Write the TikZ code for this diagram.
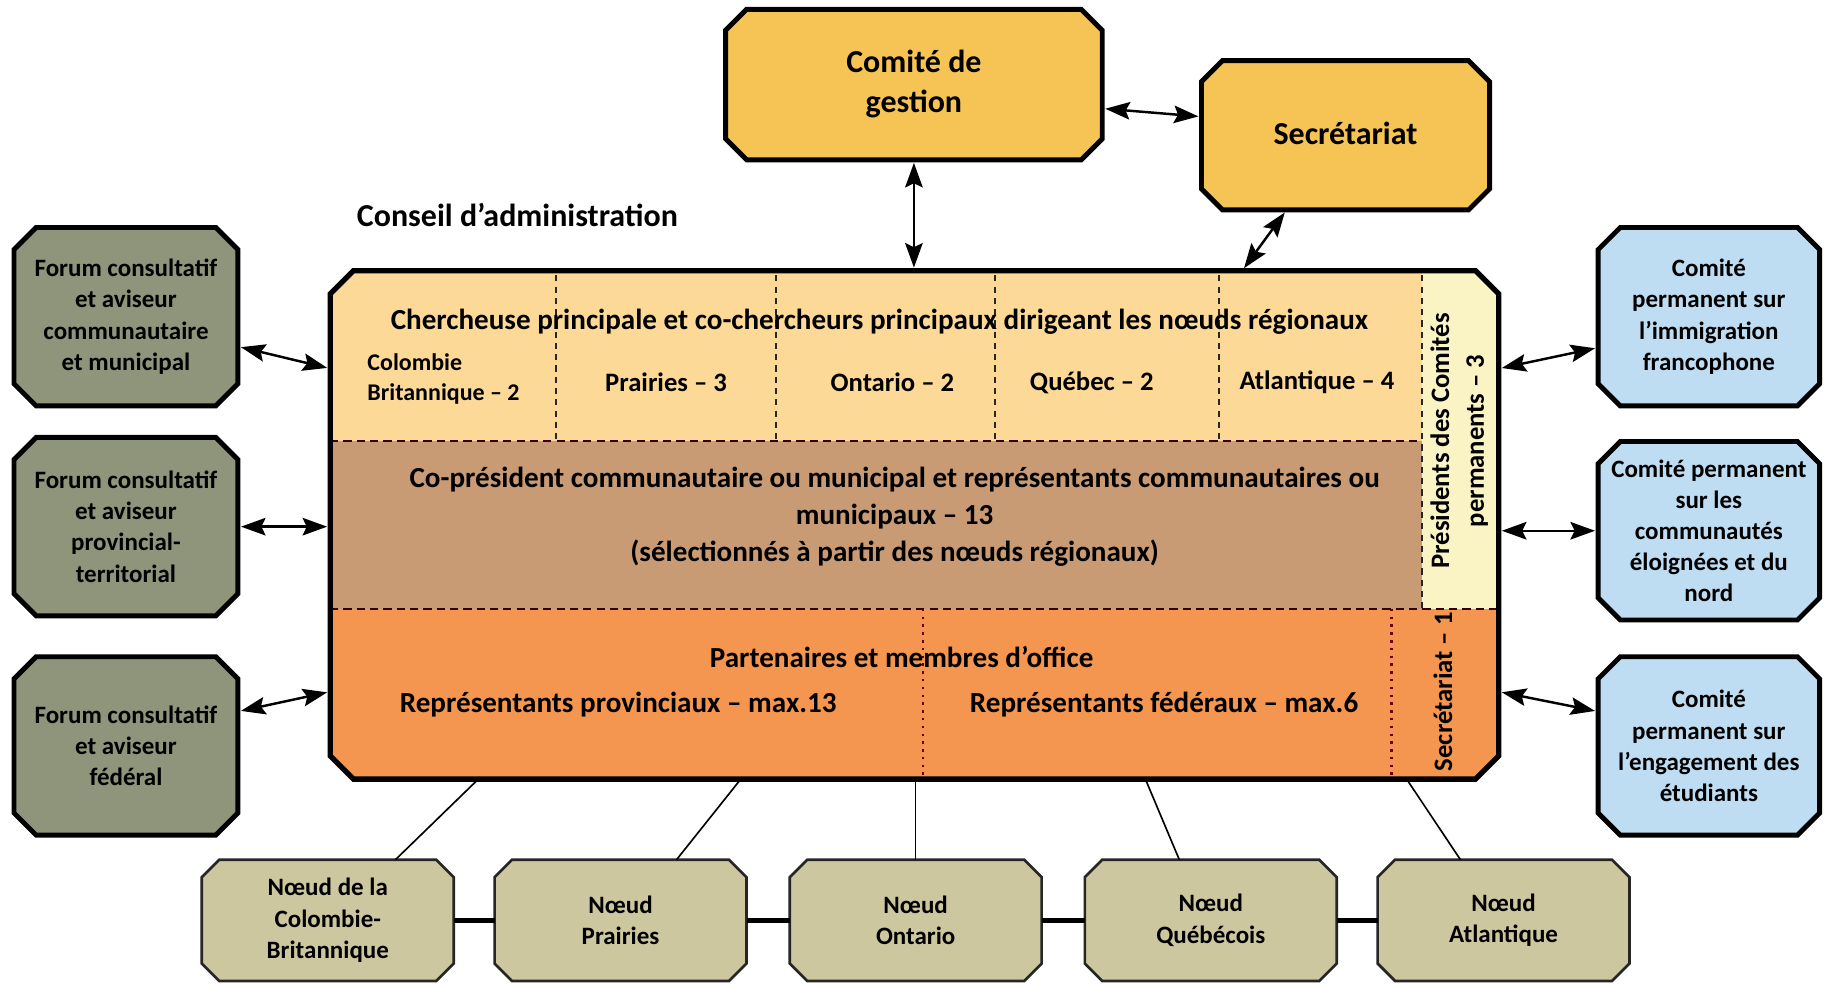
\documentclass[tikz,border=0pt]{standalone}
\usepackage{fontspec}
\setmainfont{Carlito}
\usetikzlibrary{arrows.meta,backgrounds}
\definecolor{cgold}{RGB}{245,196,85}
\definecolor{crowa}{RGB}{253,217,152}
\definecolor{crowb}{RGB}{201,155,116}
\definecolor{crowc}{RGB}{244,150,80}
\definecolor{cpres}{RGB}{250,244,196}
\definecolor{cforum}{RGB}{142,149,123}
\definecolor{cblue}{RGB}{190,220,242}
\definecolor{ckhaki}{RGB}{205,199,160}
\newcommand\fsz[2]{\fontsize{#1}{#2}\selectfont\bfseries}
% octagon outline behind a named rectangular node
\newcommand\octo[3]{%
  \begin{pgfonlayer}{background}
  \path[#3] ([xshift=#2]#1.north west) -- ([xshift=-#2]#1.north east) -- ([yshift=-#2]#1.north east) -- ([yshift=#2]#1.south east) -- ([xshift=-#2]#1.south east) -- ([xshift=#2]#1.south west) -- ([yshift=#2]#1.south west) -- ([yshift=-#2]#1.north west) -- cycle;
  \end{pgfonlayer}}
\begin{document}
\begin{tikzpicture}[x=0.02cm,y=-0.02cm,
  every node/.style={inner sep=0pt, outer sep=0pt},
  boxtext/.style={align=center},
  goldbox/.style={boxtext, font=\fsz{15.6}{19.4}},
  sidebox/.style={boxtext, minimum width=3.84cm, minimum height=3.06cm, font=\fsz{12.2}{15.2}},
  nodebox/.style={boxtext, minimum width=4.32cm, minimum height=2.08cm, font=\fsz{12.2}{15.4}},
  goldfill/.style={fill=cgold, draw=black, line width=2.4pt, line join=miter},
  forumfill/.style={fill=cforum, draw=black, line width=2.4pt},
  permfill/.style={fill=cblue, draw=black, line width=2.4pt},
  khakifill/.style={fill=ckhaki, draw=black!85, line width=1.3pt},
  arr/.style={{Stealth[length=0.42cm,width=0.3cm,inset=0.07cm]}-{Stealth[length=0.42cm,width=0.3cm,inset=0.07cm]}, line width=1.2pt, shorten <=1.5pt, shorten >=1.5pt},
  link/.style={line width=0.8pt},
  chain/.style={line width=2.4pt},
  dashA/.style={line width=1pt, dash pattern=on 3pt off 2.5pt, black!85},
  dashB/.style={line width=1.1pt, dash pattern=on 4pt off 2.5pt, black!80!red},
  dotA/.style={line width=1.1pt, dash pattern=on 1.2pt off 2.6pt, red!40!black},
  celltext/.style={font=\fsz{13}{16}},
  bigtext/.style={font=\fsz{14.2}{17.9}, align=center},
]
\useasboundingbox (0,0) rectangle (1568,843);

% top boxes
\node[goldbox, minimum width=6.46cm, minimum height=2.58cm] (cg) at (783.5,72.5) {\raisebox{2pt}{\begin{tabular}{@{}c@{}}Comité de\\gestion\end{tabular}}};
\octo{cg}{0.36cm}{goldfill}
\node[goldbox, minimum width=4.94cm, minimum height=2.56cm] (sec) at (1153.5,116) {\raisebox{2pt}{Secrétariat}};
\octo{sec}{0.36cm}{goldfill}
\node[anchor=west, font=\fsz{15.6}{19}] (ca) at (306,184) {Conseil d’administration};

% board (named frame)
\node[minimum width=20.04cm, minimum height=8.72cm] (board) at (784,450) {};
\begin{scope}
\clip ([xshift=0.4cm]board.north west) -- ([xshift=-0.4cm]board.north east) -- ([yshift=-0.4cm]board.north east) -- ([yshift=0.4cm]board.south east) -- ([xshift=-0.4cm]board.south east) -- ([xshift=0.4cm]board.south west) -- ([yshift=0.4cm]board.south west) -- ([yshift=-0.4cm]board.north west) -- cycle;
\fill[crowa] (283,232) rectangle (1219,378);
\fill[cpres] (1219,232) rectangle (1285,522);
\fill[crowb] (283,378) rectangle (1219,522);
\fill[crowc] (283,522) rectangle (1285,668);
\end{scope}
\foreach \xx in {477,665,853,1045} \draw[dashA] (\xx,236) -- (\xx,378);
\draw[dashA] (1219,236) -- (1219,522);
\draw[dashB] (283,378) -- (1219,378);
\draw[dashB] (283,522) -- (1285,522);
\draw[dotA] (791,522) -- (791,665);
\draw[dotA] (1193,522) -- (1193,665);
\draw[line width=2.6pt, line join=miter] ([xshift=0.4cm]board.north west) -- ([xshift=-0.4cm]board.north east) -- ([yshift=-0.4cm]board.north east) -- ([yshift=0.4cm]board.south east) -- ([xshift=-0.4cm]board.south east) -- ([xshift=0.4cm]board.south west) -- ([yshift=0.4cm]board.south west) -- ([yshift=-0.4cm]board.north west) -- cycle;

% board texts
\node[bigtext] (r1) at (754,276) {Chercheuse principale et co-chercheurs principaux dirigeant les nœuds régionaux};
\node[anchor=west, align=left, font=\fsz{11.7}{14.7}] (cbc) at (315,325) {Colombie\\Britannique – 2};
\node[celltext] (cpr) at (571,328) {Prairies – 3};
\node[celltext] (con) at (765,328) {Ontario – 2};
\node[celltext] (cqc) at (936,328) {Québec – 2};
\node[celltext] (cat) at (1129,328) {Atlantique – 4};
\node[bigtext] (r2) at (767,443) {Co-président communautaire ou municipal et représentants communautaires ou\\municipaux – 13\\(sélectionnés à partir des nœuds régionaux)};
\node[bigtext] (r3) at (773,563) {Partenaires et membres d’office};
\node[bigtext] (rpv) at (530,604) {Représentants provinciaux – max.13};
\node[bigtext] (rfd) at (998,604) {Représentants fédéraux – max.6};
\node[rotate=90, align=center, font=\fsz{13}{17}] (pres) at (1251,378) {Présidents des Comités\\permanents – 3};
\node[rotate=90, font=\fsz{13}{17}] (secr) at (1237,593) {Secrétariat – 1};

% side boxes
\node[sidebox] (f1) at (108,271.5) {Forum consultatif\\et aviseur\\communautaire\\et municipal};
\node[sidebox] (f2) at (108,451.5) {Forum consultatif\\et aviseur\\provincial-\\territorial};
\node[sidebox] (f3) at (108,639.5) {Forum consultatif\\et aviseur\\fédéral};
\foreach \nn in {f1,f2,f3} {\octo{\nn}{0.38cm}{forumfill}}
\node[sidebox, minimum width=3.8cm] (p1) at (1465,271.5) {Comité\\permanent sur\\l’immigration\\francophone};
\node[sidebox, minimum width=3.8cm] (p2) at (1465,455) {Comité permanent\\sur les\\communautés\\éloignées et du\\nord};
\node[sidebox, minimum width=3.8cm] (p3) at (1465,639.5) {Comité\\permanent sur\\l’engagement des\\étudiants};
\foreach \nn in {p1,p2,p3} {\octo{\nn}{0.38cm}{permfill}}

% bottom nodes
\node[nodebox] (n1) at (281,789) {Nœud de la\\Colombie-\\Britannique};
\node[nodebox] (n2) at (532,789) {Nœud\\Prairies};
\node[nodebox] (n3) at (785,789) {Nœud\\Ontario};
\node[nodebox] (n4) at (1038,789) {Nœud\\Québécois};
\node[nodebox] (n5) at (1289,789) {Nœud\\Atlantique};
\foreach \nn in {n1,n2,n3,n4,n5} {\octo{\nn}{0.3cm}{khakifill}}

% arrows
\draw[arr] (cg.south) -- (cg.south |- board.north);
\draw[arr] ([yshift=-0.41cm]cg.east) -- ([yshift=0.32cm]sec.west);
\draw[arr] ([xshift=-1.01cm]sec.south) -- ([xshift=5.62cm]board.north);
\draw[arr] ([yshift=-0.51cm]f1.east) -- ([yshift=2.68cm]board.west);
\draw[arr] (f2.east) -- (f2.east -| board.west);
\draw[arr] ([yshift=0.59cm]f3.east) -- ([yshift=-2.86cm]board.west);
\draw[arr] ([yshift=2.68cm]board.east) -- ([yshift=-0.53cm]p1.west);
\draw[arr] (p2.west -| board.east) -- (p2.west);
\draw[arr] ([yshift=-2.86cm]board.east) -- ([yshift=0.59cm]p3.west);

% links to bottom nodes
\draw[link] ([xshift=-7.48cm]board.south) -- ([xshift=1.16cm]n1.north);
\draw[link] ([xshift=-2.98cm]board.south) -- ([xshift=0.96cm]n2.north);
\draw[link] ([xshift=0.02cm]board.south) -- (n3.north);
\draw[link] ([xshift=3.96cm]board.south) -- ([xshift=-0.54cm]n4.north);
\draw[link] ([xshift=8.44cm]board.south) -- ([xshift=-0.74cm]n5.north);
\draw[chain] (n1.east) -- (n2.west);
\draw[chain] (n2.east) -- (n3.west);
\draw[chain] (n3.east) -- (n4.west);
\draw[chain] (n4.east) -- (n5.west);
\end{tikzpicture}
\end{document}
